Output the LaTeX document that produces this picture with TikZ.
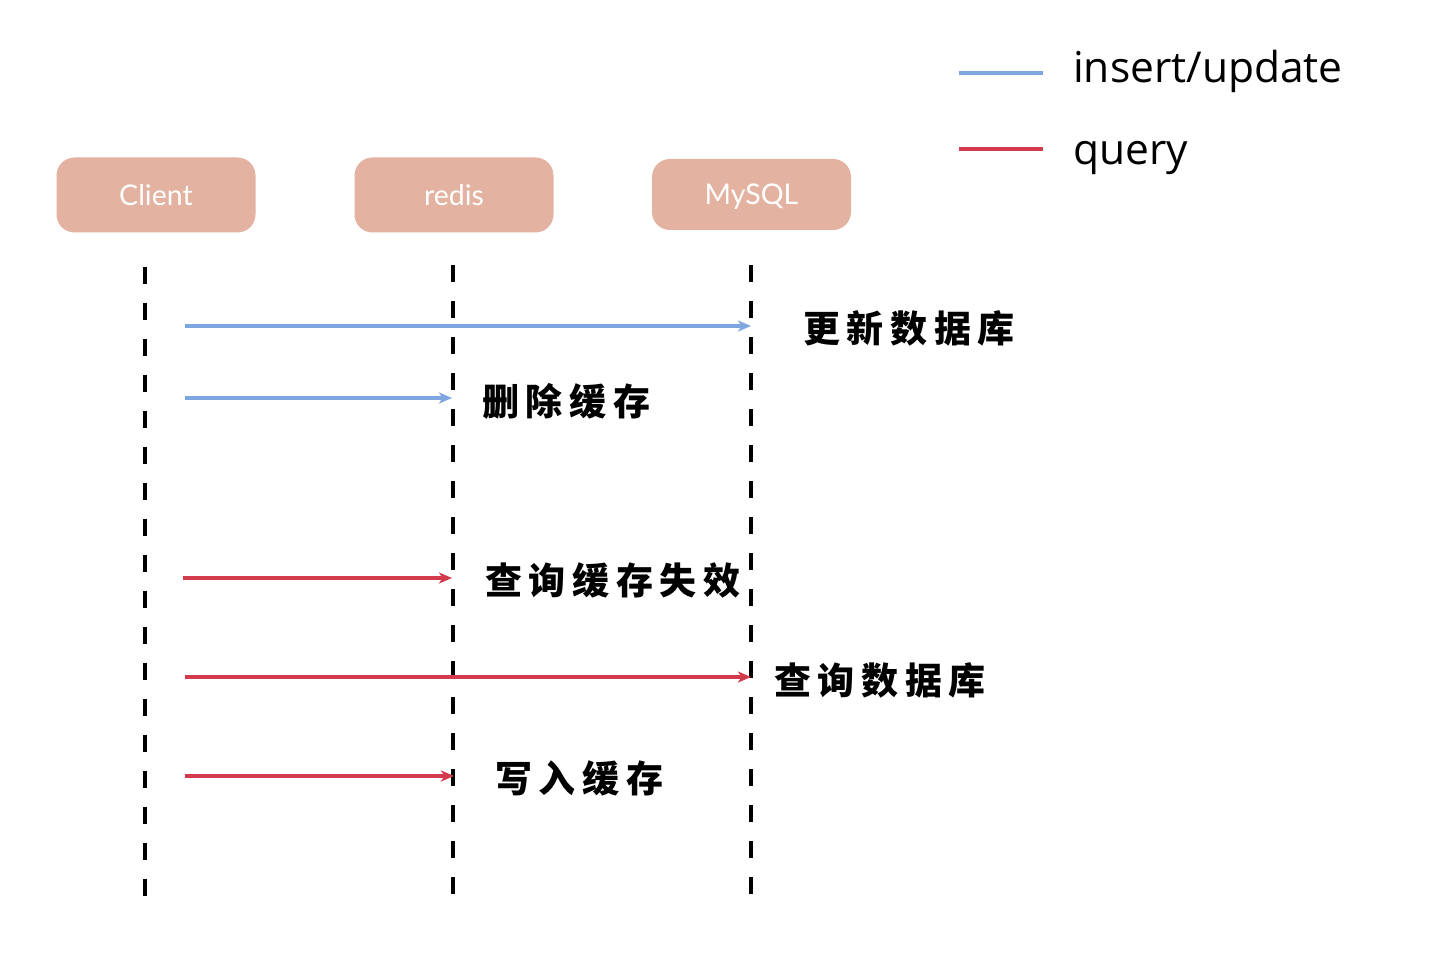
\documentclass[tikz,border=0pt]{standalone}
\usepackage{fontspec}
\setmainfont{Lato}
\newfontfamily\cjk{Noto Sans CJK SC}
\newfontfamily\legfont{Open Sans}
\usetikzlibrary{arrows.meta}
\definecolor{boxfill}{HTML}{E3B2A0}
\definecolor{bluel}{HTML}{7EA6E0}
\definecolor{redl}{HTML}{D13B4B}
\tikzset{
  actor/.style={draw=none, fill=boxfill, rounded corners=18pt, minimum width=199pt, minimum height=75pt, text=white, font=\fontsize{28.5}{30}\selectfont, inner sep=0pt, text height=21pt, text depth=0pt},
  life/.style={line width=3.2pt, dash pattern=on 17pt off 19pt},
  msgb/.style={bluel, line width=3.2pt, -{Stealth[length=13pt,width=11pt,inset=3.5pt]}},
  msgr/.style={redl, line width=3.2pt, -{Stealth[length=13pt,width=11pt,inset=3.5pt]}},
  lbl/.style={font=\cjk\bfseries\fontsize{37}{40}\selectfont\addfontfeature{LetterSpace=18}, anchor=west, inner sep=0pt},
  leg/.style={font=\legfont\fontsize{42.5}{46}\selectfont, anchor=west, inner sep=0pt}
}
\begin{document}
\begin{tikzpicture}[x=1pt,y=-1pt]
\useasboundingbox (0,0) rectangle (1450,968);
% actors
\node[actor] (client) at (156,195) {Client};
\node[actor] (redis) at (454,195) {redis};
\node[actor, minimum height=71pt] (mysql) at (751.5,194.5) {MySQL};
% lifelines
\coordinate (c1) at (145,267); \coordinate (c2) at (145,897);
\coordinate (r1) at (453,265); \coordinate (r2) at (453,895);
\coordinate (m1) at (751,265); \coordinate (m2) at (751,895);
\draw[life] (c1) -- (c2);
\draw[life] (r1) -- (r2);
\draw[life] (m1) -- (m2);
% messages
\coordinate (a1s) at (185,326); \coordinate (a1e) at (751,326);
\coordinate (a2s) at (185,398); \coordinate (a2e) at (452,398);
\coordinate (a3s) at (183,578); \coordinate (a3e) at (452,578);
\coordinate (a4s) at (185,677); \coordinate (a4e) at (751,677);
\coordinate (a5s) at (185,776); \coordinate (a5e) at (454,776);
\draw[msgb] (a1s) -- (a1e);
\draw[msgb] (a2s) -- (a2e);
\draw[msgr] (a3s) -- (a3e);
\draw[msgr] (a4s) -- (a4e);
\draw[msgr] (a5s) -- (a5e);
% labels
\node[lbl] (l1) at (803,328) {更新数据库};
\node[lbl] (l2) at (482,401) {删除缓存};
\node[lbl] (l3) at (485,580) {查询缓存失效};
\node[lbl] (l4) at (774,680) {查询数据库};
\node[lbl] (l5) at (495,778) {写入缓存};
% legend
\coordinate (lb1) at (959,73); \coordinate (lb2) at (1043,73);
\coordinate (lr1) at (959,149); \coordinate (lr2) at (1043,149);
\draw[bluel, line width=3.5pt] (lb1) -- (lb2);
\draw[redl, line width=3.5pt] (lr1) -- (lr2);
\node[leg] (t1) at (1073,71) {insert/update};
\node[leg] (t2) at (1073,158) {query};
\end{tikzpicture}
\end{document}
